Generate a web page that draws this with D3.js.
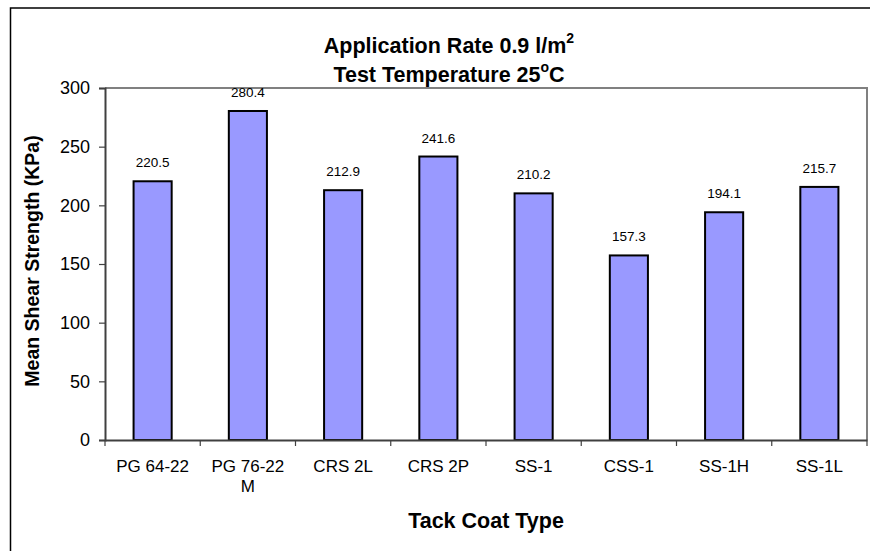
<!DOCTYPE html>
<html><head><meta charset="utf-8">
<script src="https://cdn.jsdelivr.net/npm/d3@7"></script>
<style>body{margin:0;background:#fff}svg{display:block;font-family:"Liberation Sans",Arial,sans-serif}</style>
</head><body>
<svg id="c" width="875" height="551"></svg>
<script>
const categories = [["PG 64-22"],["PG 76-22","M"],["CRS 2L"],["CRS 2P"],["SS-1"],["CSS-1"],["SS-1H"],["SS-1L"]];
const values = [220.5, 280.4, 212.9, 241.6, 210.2, 157.3, 194.1, 215.7];
const yTicks = [0, 50, 100, 150, 200, 250, 300];
const titleLine1 = "Application Rate 0.9 l/m";
const titleLine2 = "Test Temperature 25";
const yTitle = "Mean Shear Strength (KPa)";
const xTitle = "Tack Coat Type";

const svg = d3.select("#c");
const L = 105, R = 867, T = 88, B = 440;
const keys = categories.map(c => c.join(" "));
const x = d3.scaleBand().domain(keys).range([L, R]).padding(0);
const y = d3.scaleLinear().domain([0, 300]).range([B, T]);

// outer frame
svg.append("path").attr("d", `M10.5,560 L10.5,8 L870,8`).attr("fill","none").attr("stroke","#000").attr("stroke-width",1.5);

// plot frame top/right
svg.append("path").attr("d", `M${L},${T} L${R},${T} L${R},${B}`).attr("fill","none").attr("stroke","#808080").attr("stroke-width",2);

// bars
svg.append("g").selectAll("rect").data(values).join("rect")
  .attr("x", (d,i) => x(keys[i]) + x.bandwidth()*0.3)
  .attr("width", x.bandwidth()*0.4)
  .attr("y", d => y(d))
  .attr("height", d => B - y(d))
  .attr("fill", "#9999FF").attr("stroke", "#000").attr("stroke-width", 2);

// value labels
svg.append("g").selectAll("text").data(values).join("text")
  .attr("x", (d,i) => x(keys[i]) + x.bandwidth()/2)
  .attr("y", d => y(d) - 14)
  .attr("text-anchor","middle").attr("font-size","13.5px").attr("fill","#000")
  .text(d => d.toFixed(1));

// y axis
const ya = svg.append("g").attr("transform",`translate(${L},0)`)
  .call(d3.axisLeft(y).tickValues(yTicks).tickSize(6).tickPadding(9).tickFormat(d3.format("d")));
ya.select(".domain").attr("stroke","#404040").attr("stroke-width",2);
ya.selectAll(".tick line").attr("stroke","#404040").attr("stroke-width",1.2);
ya.selectAll(".tick text").attr("font-size","18px").attr("fill","#000").attr("font-family","Liberation Sans, Arial, sans-serif");

// x axis
const xa = svg.append("g").attr("transform",`translate(0,${B})`)
  .call(d3.axisBottom(x).tickSize(0).tickFormat(""));
xa.select(".domain").attr("stroke","#404040").attr("stroke-width",2);
xa.selectAll(".tick").remove();
const bounds = keys.map(k => x(k)).concat([R]);
xa.selectAll("line.bt").data(bounds).join("line").attr("class","bt")
  .attr("x1", d => d).attr("x2", d => d).attr("y1", 0).attr("y2", 6)
  .attr("stroke","#404040").attr("stroke-width",1.2);
const xl = svg.append("g").selectAll("text").data(categories).join("text")
  .attr("x", (d,i) => x(keys[i]) + x.bandwidth()/2)
  .attr("y", B + 32)
  .attr("text-anchor","middle").attr("font-size","17px").attr("fill","#000");
xl.each(function(d){
  const t = d3.select(this);
  d.forEach((s,j) => t.append("tspan").attr("x", t.attr("x")).attr("dy", j ? 20 : 0).text(s));
});

// titles
const tg = svg.append("g").attr("font-weight","bold").attr("text-anchor","middle").attr("fill","#000");
const t1 = tg.append("text").attr("x", 449).attr("y", 53).attr("font-size","21.5px");
t1.append("tspan").text(titleLine1);
t1.append("tspan").attr("font-size","14px").attr("dy",-10).text("2");
const t2 = tg.append("text").attr("x", 449).attr("y", 82).attr("font-size","21.5px");
t2.append("tspan").text(titleLine2);
t2.append("tspan").attr("font-size","14px").attr("dy",-10).text("o");
t2.append("tspan").attr("dy",10).text("C");

svg.append("text").attr("transform","translate(39,261) rotate(-90)")
  .attr("text-anchor","middle").attr("font-weight","bold").attr("font-size","19.5px").text(yTitle);
svg.append("text").attr("x", 486).attr("y", 528)
  .attr("text-anchor","middle").attr("font-weight","bold").attr("font-size","21.5px").text(xTitle);
</script>
</body></html>
